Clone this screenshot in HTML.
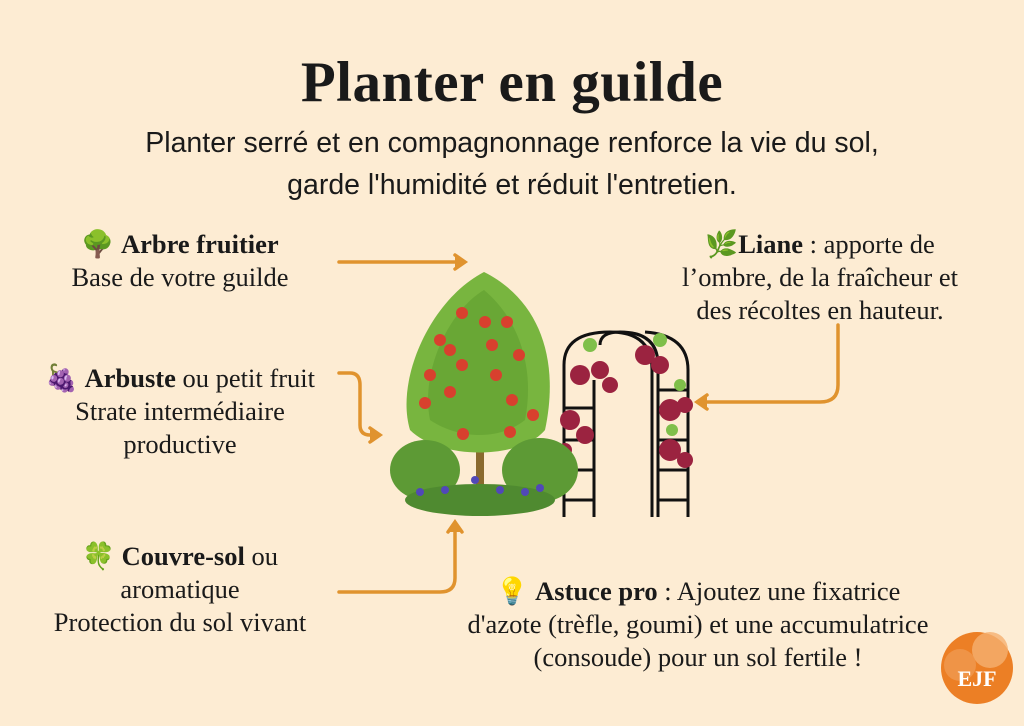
<!DOCTYPE html>
<html><head><meta charset="utf-8"><style>
body{margin:0;width:1024px;height:726px;background:#fdecd3;position:relative;overflow:hidden;font-family:"Liberation Serif",serif;color:#1a1a1a}
.t{position:absolute;text-align:center;white-space:nowrap}
h1{position:absolute;top:50px;left:0;width:1024px;text-align:center;margin:0;font-size:57px;font-weight:bold;font-family:"Liberation Serif",serif;letter-spacing:0.5px}
.sub{font-family:"Liberation Sans",sans-serif;font-size:28.5px;line-height:42px;left:0;width:1024px;top:122px}
.b{font-size:26.5px;line-height:33px}
</style></head><body>
<h1>Planter en guilde</h1>
<div class="t sub">Planter serré et en compagnonnage renforce la vie du sol,<br>garde l'humidité et réduit l'entretien.</div>
<div class="t b" style="left:30px;width:300px;top:228px">🌳 <b>Arbre fruitier</b><br>Base de votre guilde</div>
<div class="t b" style="left:30px;width:300px;top:362px">🍇 <b>Arbuste</b> ou petit fruit<br>Strate intermédiaire<br>productive</div>
<div class="t b" style="left:30px;width:300px;top:540px">🍀 <b>Couvre-sol</b> ou<br>aromatique<br>Protection du sol vivant</div>
<div class="t b" style="left:670px;width:300px;top:228px">🌿<b>Liane</b> : apporte de<br>l’ombre, de la fraîcheur et<br>des récoltes en hauteur.</div>
<div class="t b" style="left:418px;width:560px;top:575px">💡 <b>Astuce pro</b> : Ajoutez une fixatrice<br>d'azote (trèfle, goumi) et une accumulatrice<br>(consoude) pour un sol fertile !</div>
<svg width="1024" height="726" style="position:absolute;left:0;top:0">
<g fill="none" stroke="#e0932e" stroke-width="3.5" stroke-linecap="round">
<path d="M339 262 H455"/><path d="M455 255 L465 262 L455 269" fill="#e0932e"/>
<path d="M339 373 H350 Q360 373 360 385 V425 Q360 435 370 435"/><path d="M370 428 L380 435 L370 442" fill="#e0932e"/>
<path d="M339 592 H440 Q455 592 455 578 V530"/><path d="M448 532 L455 522 L462 532" fill="#e0932e"/>
<path d="M838 325 V385 Q838 402 820 402 H705"/><path d="M707 395 L697 402 L707 409" fill="#e0932e"/>
</g>
<g fill="none" stroke="#111" stroke-width="3">
<path d="M564 517 V365 Q564 332 610 332 Q652 332 652 370 V517"/>
<path d="M658 517 V365 Q658 332 620 332 Q600 332 600 345"/>
<path d="M688 517 V370 Q688 335 645 332"/>
<path d="M564 517 V365 M594 517 V380"/>
<path d="M564 408H594M564 440H594M564 470H594M564 500H594M658 390H688M658 440H688M658 470H688M658 500H688"/>
</g>
<g fill="#9b2340">
<circle cx="580" cy="375" r="10"/><circle cx="600" cy="370" r="9"/><circle cx="610" cy="385" r="8"/><circle cx="570" cy="420" r="10"/><circle cx="585" cy="435" r="9"/><circle cx="565" cy="450" r="7"/>
<circle cx="645" cy="355" r="10"/><circle cx="660" cy="365" r="9"/><circle cx="670" cy="410" r="11"/><circle cx="685" cy="405" r="8"/><circle cx="670" cy="450" r="11"/><circle cx="685" cy="460" r="8"/>
</g>
<g fill="#7fbf4a"><circle cx="590" cy="345" r="7"/><circle cx="660" cy="340" r="7"/><circle cx="680" cy="385" r="6"/><circle cx="672" cy="430" r="6"/></g>
<rect x="476" y="400" width="8" height="105" fill="#8a6a2e"/>
<path d="M484 272 C540 300 560 360 545 430 C520 460 440 460 410 430 C395 380 430 300 484 272Z" fill="#78b53f"/>
<path d="M484 290 C520 320 535 370 525 420 C500 440 460 440 430 420 C420 370 450 310 484 290Z" fill="#5f9e2f" opacity=".6"/>
<g fill="#d8402e"><circle cx="462" cy="313" r="6"/><circle cx="485" cy="322" r="6"/><circle cx="507" cy="322" r="6"/><circle cx="440" cy="340" r="6"/><circle cx="450" cy="350" r="6"/><circle cx="492" cy="345" r="6"/><circle cx="519" cy="355" r="6"/><circle cx="462" cy="365" r="6"/><circle cx="496" cy="375" r="6"/><circle cx="430" cy="375" r="6"/><circle cx="450" cy="392" r="6"/><circle cx="512" cy="400" r="6"/><circle cx="425" cy="403" r="6"/><circle cx="533" cy="415" r="6"/><circle cx="463" cy="434" r="6"/><circle cx="510" cy="432" r="6"/></g>
<ellipse cx="425" cy="470" rx="35" ry="30" fill="#5d9a35"/>
<ellipse cx="540" cy="470" rx="38" ry="32" fill="#5d9a35"/>
<ellipse cx="480" cy="500" rx="75" ry="16" fill="#4f8a30"/>
<g fill="#5148b8"><circle cx="420" cy="492" r="4"/><circle cx="445" cy="490" r="4"/><circle cx="475" cy="480" r="4"/><circle cx="500" cy="490" r="4"/><circle cx="525" cy="492" r="4"/><circle cx="540" cy="488" r="4"/></g>
<circle cx="977" cy="668" r="36" fill="#ec7f25"/>
<circle cx="990" cy="650" r="18" fill="#f5b070" opacity=".8"/><circle cx="960" cy="665" r="16" fill="#f09a50" opacity=".8"/>
<text x="977" y="686" text-anchor="middle" font-family="Liberation Serif" font-weight="bold" font-size="22" fill="#fff">EJF</text>
</svg>
</body></html>
